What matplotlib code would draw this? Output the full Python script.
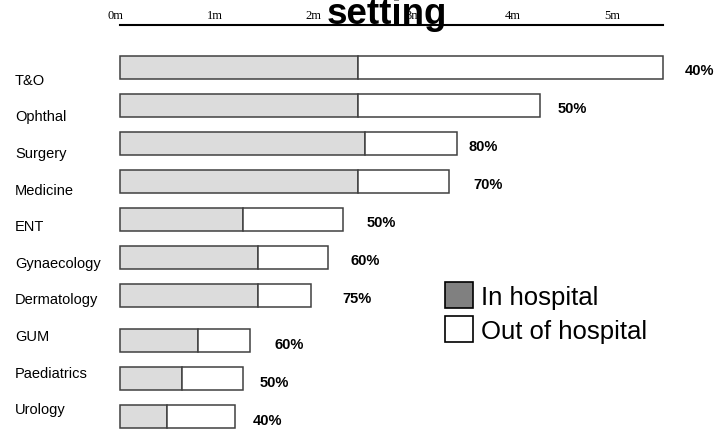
import matplotlib
matplotlib.use("Agg")
import matplotlib.pyplot as plt
from matplotlib.patches import Patch
from matplotlib.transforms import blended_transform_factory, offset_copy

plt.rcParams['font.family'] = ['Liberation Sans', 'DejaVu Sans']

# specialties, top to bottom
specialties = ["T&O", "Ophthal", "Surgery", "Medicine", "ENT",
               "Gynaecology", "Dermatology", "GUM", "Paediatrics", "Urology"]
# activity in millions
in_hospital = [2.39, 2.39, 2.46, 2.39, 1.24, 1.39, 1.39, 0.78, 0.62, 0.47]
total = [5.46, 4.23, 3.39, 3.31, 2.24, 2.09, 1.92, 1.31, 1.24, 1.16]
pct_labels = ["40%", "50%", "80%", "70%", "50%", "60%", "75%", "60%", "50%", "40%"]
tick_values = [0, 1, 2, 3, 4, 5]
tick_labels = ["0m", "1m", "2m", "3m", "4m", "5m"]

# layout: row centres (small gap before GUM) and label gaps in pixels
rows = [0, 1, 2, 3, 4, 5, 6, 7.2, 8.2, 9.2]
pct_gap_px = [22, 17, 12, 24, 24, 23, 32, 24, 16, 17]

W, H = 717, 431
fig = plt.figure(figsize=(W / 100, H / 100), dpi=100)
ax = fig.add_axes([120 / W, 0, 543 / W, (H - 26) / H])
ax.set_xlim(0, 5.463)
ax.set_ylim(9.545, -1.113)

out_hospital = [t - i for t, i in zip(total, in_hospital)]
ax.barh(rows, in_hospital, height=0.6, color="#dcdcdc",
        edgecolor="#404040", linewidth=1.1, clip_on=False)
ax.barh(rows, out_hospital, left=in_hospital, height=0.6, color="white",
        edgecolor="#404040", linewidth=1.1, clip_on=False)

# percentage labels just right of each bar
for r, t, lab, gap in zip(rows, total, pct_labels, pct_gap_px):
    tr = offset_copy(ax.transData, fig=fig, x=gap * 0.72, y=-3 * 0.72, units='points')
    ax.text(t, r, lab, transform=tr, ha='left', va='center',
            fontsize=10.5, fontweight='bold', clip_on=False)

# specialty names, evenly spaced down the left edge
name_tr = blended_transform_factory(fig.transFigure, ax.transData)
n = len(specialties)
for k, name in enumerate(specialties):
    y = 0.33 + k * (9.0 - 0.33) / (n - 1)
    ax.text(15 / W, y, name, transform=name_tr, ha='left', va='center', fontsize=10.5)

# axis on top with serif labels
for s in ["left", "right", "bottom"]:
    ax.spines[s].set_visible(False)
ax.spines["top"].set_linewidth(1.5)
ax.set_xticks([])
ax.set_yticks([])
lab_tr = offset_copy(ax.transData, fig=fig, x=-5 * 0.72, y=7 * 0.72, units='points')
for v, lab in zip(tick_values, tick_labels):
    ax.text(v, -1.113, lab, transform=lab_tr, ha='center', va='baseline',
            fontsize=9, family='Liberation Serif', clip_on=False)

fig.text(387 / W, 1 - 24.5 / H, "setting", ha='center', va='baseline',
         fontsize=26.5, fontweight='bold')

handles = [Patch(facecolor="#808080", edgecolor="black", linewidth=1.2),
           Patch(facecolor="white", edgecolor="black", linewidth=1.2)]
fig.legend(handles, ["In hospital", "Out of hospital"], loc='upper left',
           bbox_to_anchor=(445 / W, 1 - 283 / H), frameon=False, fontsize=18.5,
           handlelength=1.1, handleheight=1.2, handletextpad=0.3,
           labelspacing=0.28, borderpad=0, borderaxespad=0)

fig.savefig("out.png", dpi=100)
